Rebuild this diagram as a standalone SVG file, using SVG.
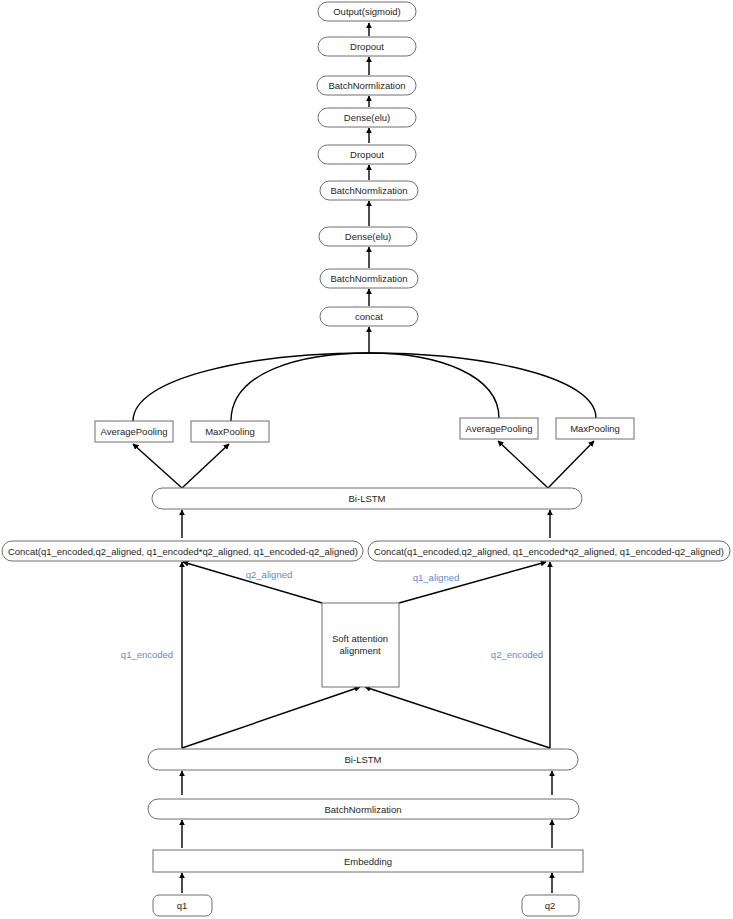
<svg xmlns="http://www.w3.org/2000/svg" width="733" height="919" viewBox="0 0 733 919">
<defs>
<style>
.n{fill:#fff;stroke:#6f6f6f;stroke-width:1}
.t{font-family:"Liberation Sans",Arial,sans-serif;font-size:9.5px;fill:#262626;text-anchor:middle}
.l{font-family:"Liberation Sans",Arial,sans-serif;font-size:9.5px;fill:#5b8ad6;text-anchor:middle}
.c{fill:none;stroke:#000;stroke-width:1.4}
.a{fill:none;stroke:#000;stroke-width:1.4;marker-end:url(#ah)}
</style>
<marker id="ah" viewBox="0 0 10 10" refX="9" refY="5" markerWidth="6" markerHeight="6" markerUnits="userSpaceOnUse" orient="auto">
<path d="M0,0 L10,5 L0,10 z" fill="#000"/>
</marker>
</defs>
<rect width="733" height="919" fill="#fff"/>
<g id="connectors">
<path class="a" d="M369,36 V23"/>
<path class="a" d="M369,75 V57"/>
<path class="a" d="M369,107 V96"/>
<path class="a" d="M369,143 V128"/>
<path class="a" d="M369,180 V165"/>
<path class="a" d="M369,226 V201"/>
<path class="a" d="M369,268 V247"/>
<path class="a" d="M369,306 V289"/>
<path class="a" d="M369,353 V327"/>
<path class="c" d="M133,421 C133,378 250,353 369,353"/>
<path class="c" d="M231,421 C231,372 300,353 369,353"/>
<path class="c" d="M499,418 C499,376 440,353 369,353"/>
<path class="c" d="M596,418 C596,376 480,353 369,353"/>
<path class="a" d="M182,488 L133,444"/>
<path class="a" d="M182,488 L229,444"/>
<path class="a" d="M548,488 L498,441"/>
<path class="a" d="M548,488 L594,441"/>
<path class="a" d="M182,538 V510"/>
<path class="a" d="M550,538 V510"/>
<path class="a" d="M182,748 V562"/>
<path class="a" d="M550,748 V562"/>
<path class="a" d="M322,603 L183,562"/>
<path class="a" d="M399,603 L546,562"/>
<path class="a" d="M182,748 L360,687"/>
<path class="a" d="M550,748 L365,687"/>
<path class="a" d="M182,795 V771"/>
<path class="a" d="M552,795 V771"/>
<path class="a" d="M182,848 V820"/>
<path class="a" d="M552,848 V820"/>
<path class="a" d="M182,893 V873"/>
<path class="a" d="M552,893 V873"/>
<text class="l" x="269" y="578">q2_aligned</text>
<text class="l" x="436" y="581">q1_aligned</text>
<text class="l" x="147" y="658">q1_encoded</text>
<text class="l" x="517" y="658">q2_encoded</text>
</g>
<g id="output"><rect class="n" x="318" y="2" width="98" height="19" rx="9.5"/><text class="t" x="367" y="15">Output(sigmoid)</text></g>
<g id="dropout2"><rect class="n" x="318" y="37" width="98" height="19" rx="9.5"/><text class="t" x="367" y="50">Dropout</text></g>
<g id="bn4"><rect class="n" x="317" y="76" width="99" height="19" rx="9.5"/><text class="t" x="367" y="89">BatchNormlization</text></g>
<g id="dense2"><rect class="n" x="318" y="108" width="98" height="19" rx="9.5"/><text class="t" x="367" y="121">Dense(elu)</text></g>
<g id="dropout1"><rect class="n" x="318" y="145" width="98" height="19" rx="9.5"/><text class="t" x="367" y="158">Dropout</text></g>
<g id="bn3"><rect class="n" x="320" y="181" width="98" height="19" rx="9.5"/><text class="t" x="369" y="194">BatchNormlization</text></g>
<g id="dense1"><rect class="n" x="319" y="227" width="98" height="19" rx="9.5"/><text class="t" x="368" y="240">Dense(elu)</text></g>
<g id="bn2"><rect class="n" x="320" y="269" width="98" height="19" rx="9.5"/><text class="t" x="369" y="282">BatchNormlization</text></g>
<g id="concat"><rect class="n" x="320" y="307" width="98" height="19" rx="9.5"/><text class="t" x="369" y="320">concat</text></g>
<g id="avgpool1"><rect class="n" x="95" y="421" width="78" height="21"/><text class="t" x="134" y="435">AveragePooling</text></g>
<g id="maxpool1"><rect class="n" x="191" y="421" width="78" height="21"/><text class="t" x="230" y="435">MaxPooling</text></g>
<g id="avgpool2"><rect class="n" x="460" y="418" width="78" height="21"/><text class="t" x="499" y="432">AveragePooling</text></g>
<g id="maxpool2"><rect class="n" x="556" y="418" width="78" height="21"/><text class="t" x="595" y="432">MaxPooling</text></g>
<g id="bilstm2"><rect class="n" x="152" y="488" width="430" height="21" rx="10.5"/><text class="t" x="367" y="502">Bi-LSTM</text></g>
<g id="concat1"><rect class="n" x="2" y="541" width="361" height="20" rx="10"/><text class="t" x="183" y="555" textLength="350" lengthAdjust="spacingAndGlyphs">Concat(q1_encoded,q2_aligned, q1_encoded*q2_aligned, q1_encoded-q2_aligned)</text></g>
<g id="concat2"><rect class="n" x="368" y="541" width="362" height="20" rx="10"/><text class="t" x="549" y="555" textLength="350" lengthAdjust="spacingAndGlyphs">Concat(q1_encoded,q2_aligned, q1_encoded*q2_aligned, q1_encoded-q2_aligned)</text></g>
<g id="attention"><rect class="n" x="322" y="603" width="77" height="84"/><text class="t" x="360" y="642">Soft attention</text><text class="t" x="360" y="654">alignment</text></g>
<g id="bilstm1"><rect class="n" x="148" y="749" width="430" height="21" rx="10.5"/><text class="t" x="363" y="763">Bi-LSTM</text></g>
<g id="bn1"><rect class="n" x="148" y="799" width="431" height="20" rx="10"/><text class="t" x="363" y="813">BatchNormlization</text></g>
<g id="embedding"><rect class="n" x="153" y="850" width="430" height="22"/><text class="t" x="368" y="865">Embedding</text></g>
<g id="q1"><rect class="n" x="153" y="895" width="59" height="21" rx="6"/><text class="t" x="182" y="909">q1</text></g>
<g id="q2"><rect class="n" x="522" y="895" width="57" height="21" rx="6"/><text class="t" x="550" y="909">q2</text></g>
</svg>
